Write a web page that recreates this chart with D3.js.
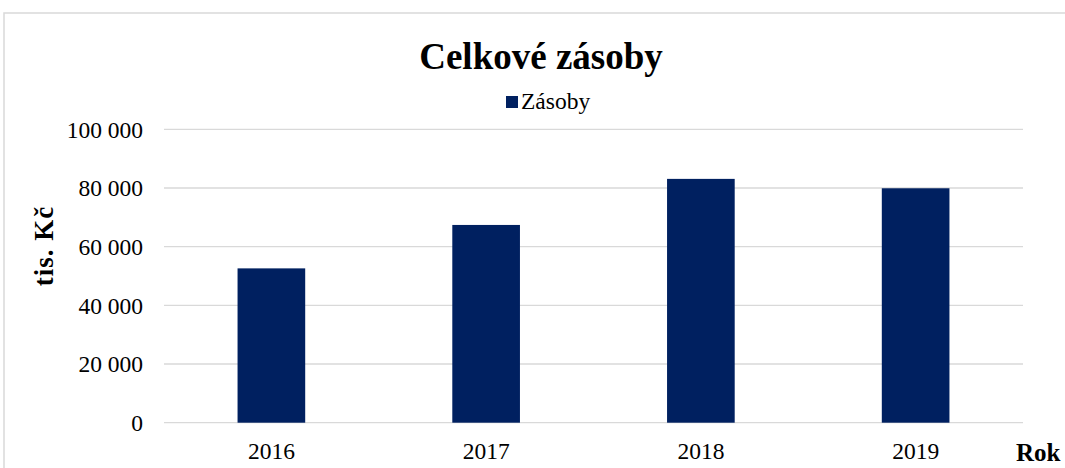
<!DOCTYPE html>
<html>
<head>
<meta charset="utf-8">
<script src="https://cdn.jsdelivr.net/npm/d3@7"></script>
<style>
  body { margin: 0; background: #fff; }
  svg { display: block; font-family: "Liberation Serif", "Times New Roman", serif; }
</style>
</head>
<body>
<div id="container"></div>
<script>
const years = ["2016", "2017", "2018", "2019"];
const zasoby = [52600, 67400, 83100, 79900];
const yTicks = [0, 20000, 40000, 60000, 80000, 100000];

const width = 1065, height = 468;
const margin = { left: 164, right: 42, top: 129.3, bottom: 45.3 };

const svg = d3.select("#container").append("svg")
  .attr("width", width)
  .attr("height", height);

// chart frame
svg.append("rect")
  .attr("x", 4).attr("y", 13)
  .attr("width", width + 10).attr("height", height + 10)
  .attr("fill", "none")
  .attr("stroke", "#d9d9d9")
  .attr("stroke-width", 1.5);

const x = d3.scaleBand()
  .domain(years)
  .range([margin.left, width - margin.right])
  .paddingInner(0.685)
  .paddingOuter(0.3425);

const y = d3.scaleLinear()
  .domain([0, 100000])
  .range([height - margin.bottom, margin.top]);

const fmt = v => d3.format(",")(v).replace(/,/g, " ");

// gridlines
svg.append("g")
  .selectAll("line")
  .data(yTicks)
  .join("line")
  .attr("x1", margin.left)
  .attr("x2", width - margin.right)
  .attr("y1", d => y(d))
  .attr("y2", d => y(d))
  .attr("stroke", "#d9d9d9")
  .attr("stroke-width", 1.3);

// y tick labels
svg.append("g")
  .selectAll("text")
  .data(yTicks)
  .join("text")
  .attr("x", 143)
  .attr("y", d => y(d))
  .attr("dy", "0.35em")
  .attr("text-anchor", "end")
  .attr("font-size", 23.5)
  .attr("fill", "#000")
  .text(d => fmt(d));

// bars
svg.append("g")
  .selectAll("rect")
  .data(zasoby)
  .join("rect")
  .attr("x", (d, i) => x(years[i]))
  .attr("y", d => y(d))
  .attr("width", x.bandwidth())
  .attr("height", d => y(0) - y(d))
  .attr("fill", "#002060");

// x labels
svg.append("g")
  .selectAll("text")
  .data(years)
  .join("text")
  .attr("x", d => x(d) + x.bandwidth() / 2)
  .attr("y", 459)
  .attr("text-anchor", "middle")
  .attr("font-size", 23.5)
  .attr("fill", "#000")
  .text(d => d);

// title
svg.append("text")
  .attr("x", 541)
  .attr("y", 69)
  .attr("text-anchor", "middle")
  .attr("font-size", 37)
  .attr("font-weight", "bold")
  .text("Celkové zásoby");

// legend
svg.append("rect")
  .attr("x", 506).attr("y", 96)
  .attr("width", 12).attr("height", 12)
  .attr("fill", "#002060");
svg.append("text")
  .attr("x", 521)
  .attr("y", 109)
  .attr("font-size", 23.5)
  .text("Zásoby");

// axis titles
svg.append("text")
  .attr("transform", "translate(53,246) rotate(-90)")
  .attr("text-anchor", "middle")
  .attr("font-size", 27)
  .attr("font-weight", "bold")
  .attr("letter-spacing", 1)
  .text("tis. Kč");

svg.append("text")
  .attr("x", 1016)
  .attr("y", 461)
  .attr("font-size", 25)
  .attr("font-weight", "bold")
  .text("Rok");
</script>
</body>
</html>
